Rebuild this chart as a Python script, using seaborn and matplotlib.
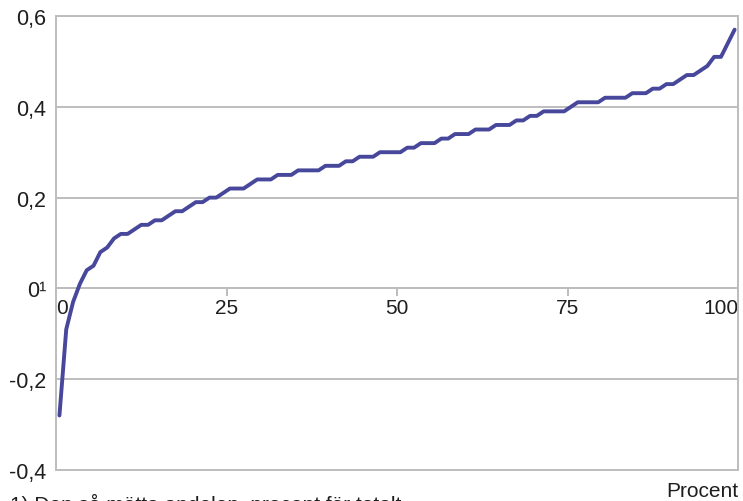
import numpy as np
import pandas as pd
import matplotlib
matplotlib.use("Agg")
import matplotlib.pyplot as plt
import seaborn as sns

# percentile position (0.5 ... 99.5) and value
percent = np.arange(100) + 0.5
values = [
    -0.28, -0.09, -0.03, 0.01, 0.04, 0.05, 0.08, 0.09, 0.11, 0.12,
    0.12, 0.13, 0.14, 0.14, 0.15, 0.15, 0.16, 0.17, 0.17, 0.18,
    0.19, 0.19, 0.20, 0.20, 0.21, 0.22, 0.22, 0.22, 0.23, 0.24,
    0.24, 0.24, 0.25, 0.25, 0.25, 0.26, 0.26, 0.26, 0.26, 0.27,
    0.27, 0.27, 0.28, 0.28, 0.29, 0.29, 0.29, 0.30, 0.30, 0.30,
    0.30, 0.31, 0.31, 0.32, 0.32, 0.32, 0.33, 0.33, 0.34, 0.34,
    0.34, 0.35, 0.35, 0.35, 0.36, 0.36, 0.36, 0.37, 0.37, 0.38,
    0.38, 0.39, 0.39, 0.39, 0.39, 0.40, 0.41, 0.41, 0.41, 0.41,
    0.42, 0.42, 0.42, 0.42, 0.43, 0.43, 0.43, 0.44, 0.44, 0.45,
    0.45, 0.46, 0.47, 0.47, 0.48, 0.49, 0.51, 0.51, 0.54, 0.57,
]
y_ticks = [-0.4, -0.2, 0.0, 0.2, 0.4, 0.6]
y_labels = ["-0,4", "-0,2", "0\u00b9", "0,2", "0,4", "0,6"]
x_ticks = [0, 25, 50, 75, 100]
x_labels = ["0", "25", "50", "75", "100"]

df = pd.DataFrame({"Procent": percent, "Varde": values})

sns.set_style("white")
plt.rcParams["font.family"] = ["Liberation Sans", "DejaVu Sans"]

grey = "#bdbdbd"
txt = "#1e1e1e"
fig = plt.figure(figsize=(7.43, 5.02), dpi=100)
ax = fig.add_axes([0.0754, 0.0618, 0.9933 - 0.0754, 0.9661 - 0.0618])

sns.lineplot(data=df, x="Procent", y="Varde", color="#47479b", linewidth=2.8, ax=ax)

ax.set_xlim(0, 100)
ax.set_ylim(-0.4, 0.6)
ax.set_yticks(y_ticks)
ax.set_yticklabels(y_labels, fontsize=15.5, color=txt)
ax.tick_params(axis="y", length=0, pad=7)
ax.set_xticks([])
ax.set_xlabel("")
ax.set_ylabel("")
for yv in y_ticks:
    ax.axhline(yv, color=grey, linewidth=1.4, zorder=0)
for sp in ax.spines.values():
    sp.set_color(grey)
    sp.set_linewidth(1.4)

# x axis drawn along y = 0
sec = ax.secondary_xaxis(0.4)
sec.set_xticks(x_ticks)
sec.set_xticklabels(x_labels, fontsize=15, color=txt)
sec.tick_params(axis="x", length=6, width=1.4, color=grey, pad=1)
sec.spines["bottom"].set_color(grey)
sec.spines["bottom"].set_linewidth(1.4)
tl = sec.get_xticklabels()
tl[0].set_ha("left")
tl[-1].set_ha("right")

fig.text(0.9933, 0.002, "Procent", ha="right", va="bottom", fontsize=15, color=txt)
fig.text(0.013, -0.026, "1) Den så mätta andelen, procent för totalt",
         ha="left", va="bottom", fontsize=15, color=txt)

fig.savefig("out.png", dpi=100)
